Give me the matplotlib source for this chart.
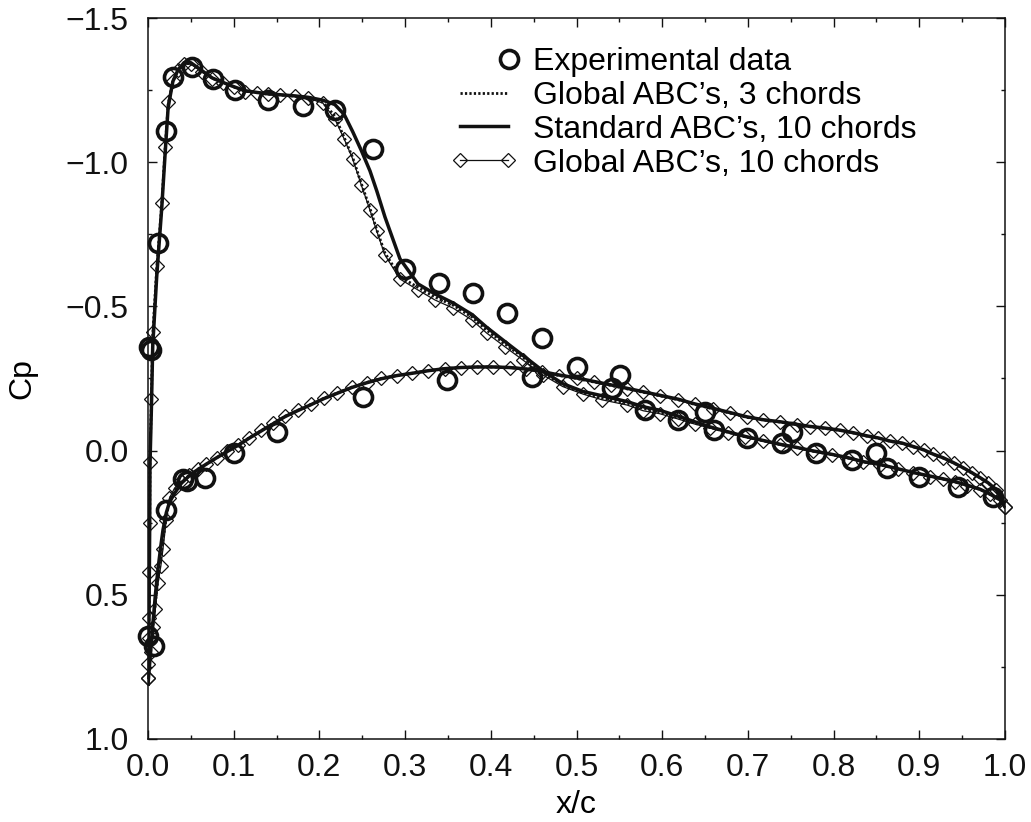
import numpy as np
import matplotlib
matplotlib.use("Agg")
import matplotlib.pyplot as plt
from matplotlib.ticker import MultipleLocator, FuncFormatter
from matplotlib.legend_handler import HandlerLine2D

plt.rcParams['font.family'] = ['Liberation Sans', 'DejaVu Sans']

# ---- data ----
# experimental points (upper then lower surface)
exp_x = [0.001, 0.003, 0.012, 0.0206, 0.029, 0.051, 0.076, 0.1015, 0.140, 0.181,
         0.218, 0.263, 0.300, 0.340, 0.379, 0.419, 0.460, 0.500, 0.541, 0.551,
         0.580, 0.619, 0.650, 0.660, 0.699, 0.740, 0.751, 0.780, 0.821, 0.850,
         0.862, 0.900, 0.945, 0.986, 0.0, 0.007, 0.021, 0.041, 0.045, 0.0665,
         0.100, 0.150, 0.251, 0.349, 0.448]
exp_cp = [-0.36, -0.35, -0.72, -1.109, -1.295, -1.33, -1.287, -1.25, -1.216, -1.195,
          -1.18, -1.045, -0.63, -0.58, -0.546, -0.477, -0.39, -0.29, -0.217, -0.262,
          -0.141, -0.106, -0.134, -0.072, -0.044, -0.026, -0.064, 0.008, 0.032, 0.008,
          0.06, 0.09, 0.126, 0.16, 0.644, 0.678, 0.205, 0.10, 0.105, 0.095,
          0.01, -0.064, -0.186, -0.245, -0.255]

# computed solutions, suction-side branch
upper_x = [0.0, 0.0003, 0.0008, 0.0012, 0.0016, 0.0020, 0.0023, 0.0040, 0.0055, 0.0101,
           0.0160, 0.0200, 0.0235, 0.0290, 0.0350, 0.0420, 0.0500, 0.0627, 0.0750, 0.0880,
           0.1000, 0.1130, 0.1270, 0.1400, 0.1540, 0.1710, 0.1870, 0.2040, 0.2180, 0.2290,
           0.2390, 0.2490, 0.2590, 0.2670, 0.2765, 0.2940, 0.3150, 0.3350, 0.3560, 0.3780,
           0.3950, 0.4165, 0.4375, 0.4610, 0.4840, 0.5076, 0.5300, 0.5590, 0.5780, 0.5970,
           0.6180, 0.6380, 0.6560, 0.6770, 0.6970, 0.7180, 0.7375, 0.7570, 0.7760, 0.7980,
           0.8160, 0.8340, 0.8540, 0.8750, 0.8930, 0.9120, 0.9280, 0.9420, 0.9560, 0.9710,
           0.9820, 0.9940, 1.0]
g10_upper_cp = [0.79, 0.74, 0.65, 0.58, 0.42, 0.25, 0.04, -0.18, -0.41, -0.64,
                -0.86, -1.054, -1.21, -1.28, -1.32, -1.34, -1.34, -1.314, -1.29, -1.275,
                -1.26, -1.245, -1.24, -1.235, -1.232, -1.228, -1.222, -1.205, -1.15, -1.08,
                -1.01, -0.92, -0.834, -0.76, -0.678, -0.595, -0.557, -0.522, -0.494, -0.453,
                -0.408, -0.36, -0.314, -0.262, -0.222, -0.196, -0.176, -0.158, -0.138, -0.128,
                -0.11, -0.092, -0.078, -0.062, -0.047, -0.033, -0.02, -0.009, 0.003, 0.015,
                0.026, 0.04, 0.05, 0.065, 0.078, 0.09, 0.1, 0.11, 0.122, 0.136,
                0.152, 0.172, 0.195]
g3_upper_cp = [0.79, 0.74, 0.65, 0.58, 0.42, 0.25, 0.04, -0.18, -0.40, -0.63,
               -0.85, -1.05, -1.20, -1.28, -1.32, -1.342, -1.342, -1.316, -1.291, -1.276,
               -1.261, -1.246, -1.241, -1.236, -1.233, -1.229, -1.223, -1.208, -1.16, -1.085,
               -1.015, -0.925, -0.84, -0.765, -0.685, -0.603, -0.566, -0.532, -0.504, -0.463,
               -0.418, -0.37, -0.323, -0.27, -0.228, -0.2, -0.182, -0.165, -0.146, -0.134,
               -0.114, -0.095, -0.08, -0.063, -0.048, -0.034, -0.021, -0.01, 0.002, 0.014,
               0.025, 0.039, 0.049, 0.064, 0.077, 0.089, 0.099, 0.109, 0.121, 0.135,
               0.151, 0.171, 0.195]
std_upper_cp = [0.81, 0.74, 0.65, 0.57, 0.42, 0.25, 0.05, -0.15, -0.36, -0.60,
                -0.84, -1.03, -1.19, -1.28, -1.32, -1.345, -1.345, -1.318, -1.292, -1.276,
                -1.262, -1.248, -1.242, -1.237, -1.234, -1.23, -1.225, -1.215, -1.2, -1.165,
                -1.105, -1.04, -0.97, -0.9, -0.81, -0.665, -0.578, -0.543, -0.512, -0.472,
                -0.428, -0.378, -0.33, -0.276, -0.232, -0.205, -0.19, -0.17, -0.152, -0.14,
                -0.12, -0.1, -0.082, -0.065, -0.049, -0.035, -0.022, -0.011, 0.001, 0.013,
                0.024, 0.038, 0.048, 0.063, 0.076, 0.088, 0.098, 0.108, 0.12, 0.134,
                0.15, 0.17, 0.195]

# computed solutions, pressure-side branch
lower_x = [0.0, 0.003, 0.006, 0.0086, 0.0117, 0.015, 0.0175, 0.0214, 0.025, 0.031,
           0.039, 0.048, 0.058, 0.068, 0.080, 0.092, 0.105, 0.118, 0.132, 0.146,
           0.160, 0.175, 0.190, 0.205, 0.221, 0.238, 0.255, 0.272, 0.290, 0.308,
           0.327, 0.346, 0.365, 0.384, 0.403, 0.422, 0.441, 0.460, 0.480, 0.500,
           0.520, 0.540, 0.559, 0.578, 0.597, 0.619, 0.638, 0.659, 0.679, 0.699,
           0.718, 0.7375, 0.757, 0.772, 0.790, 0.807, 0.823, 0.839, 0.852, 0.866,
           0.880, 0.893, 0.905, 0.916, 0.928, 0.940, 0.951, 0.961, 0.971, 0.980,
           0.990, 1.0]
g10_lower_cp = [0.79, 0.70, 0.61, 0.55, 0.46, 0.40, 0.34, 0.24, 0.165, 0.13,
                0.107, 0.085, 0.065, 0.047, 0.025, 0.003, -0.02, -0.045, -0.07, -0.095,
                -0.12, -0.14, -0.16, -0.182, -0.2, -0.22, -0.236, -0.25, -0.26, -0.268,
                -0.277, -0.284, -0.288, -0.29, -0.29, -0.288, -0.283, -0.273, -0.26, -0.25,
                -0.238, -0.226, -0.214, -0.202, -0.19, -0.176, -0.16, -0.145, -0.13, -0.115,
                -0.106, -0.099, -0.09, -0.083, -0.077, -0.07, -0.061, -0.05, -0.043, -0.032,
                -0.025, -0.013, -0.002, 0.013, 0.026, 0.043, 0.06, 0.077, 0.095, 0.112,
                0.137, 0.195]
g3_lower_cp = [0.79, 0.70, 0.60, 0.53, 0.44, 0.37, 0.31, 0.23, 0.17, 0.138,
               0.109, 0.086, 0.065, 0.047, 0.025, 0.003, -0.019, -0.044, -0.069, -0.094,
               -0.119, -0.14, -0.16, -0.181, -0.2, -0.22, -0.236, -0.25, -0.26, -0.268,
               -0.277, -0.284, -0.288, -0.29, -0.29, -0.288, -0.283, -0.273, -0.26, -0.25,
               -0.238, -0.226, -0.214, -0.202, -0.19, -0.176, -0.16, -0.145, -0.13, -0.115,
               -0.106, -0.099, -0.09, -0.083, -0.077, -0.07, -0.061, -0.05, -0.043, -0.032,
               -0.025, -0.013, -0.002, 0.013, 0.026, 0.043, 0.06, 0.077, 0.095, 0.112,
               0.137, 0.195]
std_lower_cp = [0.81, 0.70, 0.59, 0.50, 0.41, 0.33, 0.275, 0.215, 0.18, 0.148,
                0.113, 0.088, 0.066, 0.047, 0.025, 0.004, -0.018, -0.043, -0.068, -0.093,
                -0.118, -0.139, -0.159, -0.18, -0.199, -0.219, -0.235, -0.249, -0.26, -0.268,
                -0.277, -0.284, -0.288, -0.29, -0.29, -0.288, -0.283, -0.274, -0.262, -0.252,
                -0.24, -0.228, -0.216, -0.204, -0.192, -0.178, -0.162, -0.147, -0.132, -0.117,
                -0.107, -0.1, -0.091, -0.084, -0.078, -0.071, -0.062, -0.051, -0.044, -0.033,
                -0.026, -0.014, -0.003, 0.012, 0.025, 0.042, 0.059, 0.076, 0.094, 0.111,
                0.136, 0.195]

labels = ["Experimental data", "Global ABC\u2019s, 3 chords",
          "Standard ABC\u2019s, 10 chords", "Global ABC\u2019s, 10 chords"]


# legend handler: single marker sitting at the right end of the handle
class EndMarker(HandlerLine2D):
    def get_xdata(self, legend, xdescent, ydescent, width, height, fontsize):
        x = np.array([-xdescent + width * 0.88])
        return x, x


fig = plt.figure(figsize=(10.31, 8.22), dpi=100)
ax = fig.add_axes([148 / 1031, 1 - 739 / 822, (1005 - 148) / 1031, (739 - 18) / 822])

k = '#111111'
fs = 23
g3_style = dict(color=k, lw=2.0, linestyle=(0, (0.8, 0.8)))
std_style = dict(color=k, lw=2.5, linestyle='-')
g10_style = dict(color=k, lw=0.9, marker='D', markersize=7.2, markerfacecolor='none',
                 markeredgecolor=k, markeredgewidth=0.9, clip_on=False)

ax.plot(lower_x, g10_lower_cp, zorder=2, **g10_style)
h_g10, = ax.plot(upper_x, g10_upper_cp, zorder=2, **g10_style)
ax.plot(lower_x, std_lower_cp, zorder=3, **std_style)
h_std, = ax.plot(upper_x, std_upper_cp, zorder=3, **std_style)
ax.plot(lower_x, g3_lower_cp, zorder=4, **g3_style)
h_g3, = ax.plot(upper_x, g3_upper_cp, zorder=4, **g3_style)
h_exp, = ax.plot(exp_x, exp_cp, linestyle='none', marker='o', markersize=13,
                 markerfacecolor='none', markeredgecolor=k, markeredgewidth=2.6,
                 clip_on=False, zorder=5)

ax.set_xlim(0, 1)
ax.set_ylim(1.0, -1.5)

fmt = FuncFormatter(lambda v, p: ("%.1f" % v).replace('-', '\u2212') if abs(v) > 1e-9 else "0.0")
ax.xaxis.set_major_locator(MultipleLocator(0.1))
ax.xaxis.set_minor_locator(MultipleLocator(0.05))
ax.yaxis.set_major_locator(MultipleLocator(0.5))
ax.yaxis.set_minor_locator(MultipleLocator(0.25))
ax.xaxis.set_major_formatter(fmt)
ax.yaxis.set_major_formatter(fmt)

ax.tick_params(which='both', direction='in', top=True, right=True, colors=k, width=1.0)
ax.tick_params(which='major', length=6.5)
ax.tick_params(which='minor', length=3.2)
ax.tick_params(axis='x', labelsize=fs, pad=10)
ax.tick_params(axis='y', labelsize=fs, pad=14)
for s in ax.spines.values():
    s.set_linewidth(1.1)
    s.set_color(k)

ax.set_xlabel("x/c", fontsize=fs, labelpad=5)
ax.set_ylabel("Cp", fontsize=fs, labelpad=20)

leg = ax.legend([h_exp, h_g3, h_std, h_g10], labels,
                handler_map={h_exp: EndMarker()},
                loc='upper left', bbox_to_anchor=(450 / 1031, 1 - 47 / 822),
                bbox_transform=fig.transFigure, frameon=False, fontsize=fs,
                handlelength=2.1, handletextpad=0.5, labelspacing=0.12,
                borderpad=0, borderaxespad=0, numpoints=2)

fig.savefig("out.png", dpi=100)
